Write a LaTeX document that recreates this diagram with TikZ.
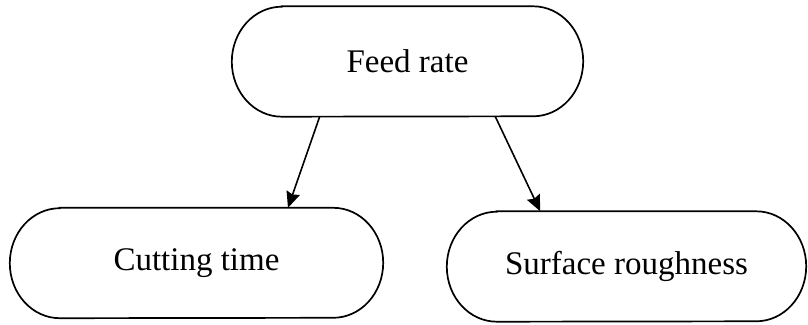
\documentclass[tikz,border=0pt]{standalone}
\usepackage{fontspec}
\setmainfont{Liberation Serif}
\usetikzlibrary{arrows.meta,calc}

\tikzset{
  pillbox/.style={draw=none, minimum height=110pt, inner sep=0pt,
    font=\fontsize{33}{40}\selectfont},
  outline/.style={draw=black, line width=1.7pt},
  link/.style={line width=1.6pt, -{Stealth[length=16pt,width=14pt,inset=2pt]}},
}

% stadium outline with elliptical ends around a named node
\newcommand{\pilloutline}[2]{%
  \draw[outline] ([xshift=#2]#1.north west) -- ([xshift=-#2]#1.north east)
    arc[start angle=90, end angle=-90, x radius=#2, y radius=55pt]
    -- ([xshift=#2]#1.south west)
    arc[start angle=270, end angle=90, x radius=#2, y radius=55pt] -- cycle;}

\begin{document}
\begin{tikzpicture}[x=1pt,y=1pt]
  \useasboundingbox (0,0) rectangle (808,324);

  \node[pillbox, minimum width=351pt] (feed) at (407.5,262.5) {Feed rate};
  \node[pillbox, minimum width=373pt] (cut)  at (196.5,61)   {Cutting time};
  \node[pillbox, minimum width=359pt] (surf) at (626.5,57.5) {Surface roughness};

  \pilloutline{feed}{50pt}
  \pilloutline{cut}{50pt}
  \pilloutline{surf}{50pt}

  \draw[link] ($(feed.south west)!0.25!(feed.south east)$)
           -- ($(cut.north west)!0.745!(cut.north east)$);
  \draw[link] ($(feed.south west)!0.75!(feed.south east)$)
           -- ($(surf.north west)!0.26!(surf.north east)$);
\end{tikzpicture}
\end{document}
